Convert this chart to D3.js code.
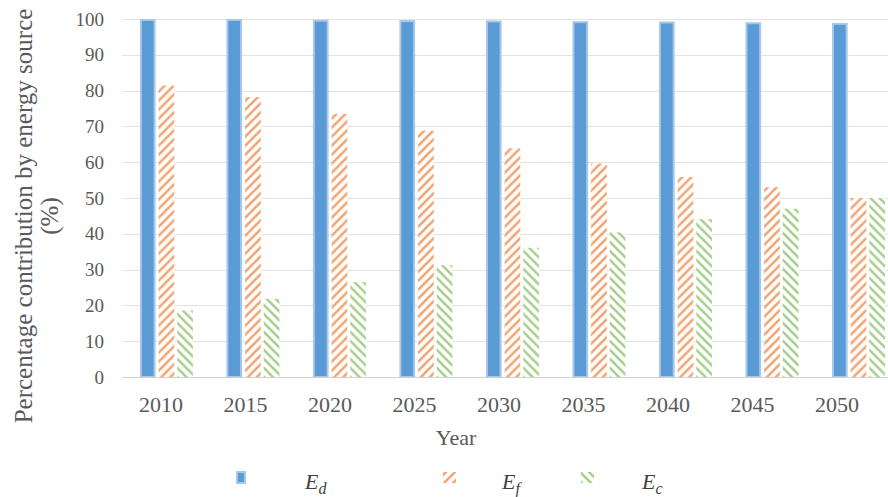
<!DOCTYPE html>
<html>
<head>
<meta charset="utf-8">
<script src="https://cdn.jsdelivr.net/npm/d3@7"></script>
<style>
  html, body { margin: 0; padding: 0; background: #fff; }
  svg { display: block; }
  svg text { font-family: "Liberation Serif", "DejaVu Serif", serif; }
</style>
</head>
<body>
<svg id="chart" width="888" height="497"></svg>
<script>
// Share of each energy source per year (%)
const years = ["2010", "2015", "2020", "2025", "2030", "2035", "2040", "2045", "2050"];
const seriesKeys = ["Ed", "Ef", "Ec"];
const valuesEd = [100, 100, 99.8, 99.7, 99.6, 99.4, 99.3, 99.1, 98.9];
const valuesEf = [81.4, 78.2, 73.5, 68.8, 63.9, 59.6, 55.9, 53.0, 50.0];
const valuesEc = [18.6, 21.8, 26.5, 31.2, 36.1, 40.4, 44.1, 47.0, 50.0];
const yTicks = [0, 10, 20, 30, 40, 50, 60, 70, 80, 90, 100];

const rows = years.map((yr, i) => ({ year: yr, Ed: valuesEd[i], Ef: valuesEf[i], Ec: valuesEc[i] }));

const svg = d3.select("#chart");
const W = 888, H = 497;
const plot = { left: 124.4, right: 903, top: 19, bottom: 377 };

const x = d3.scaleBand().domain(years).range([plot.left, plot.right]).padding(0);
const xs = d3.scaleBand().domain(seriesKeys).range([15.5, 68.5]).paddingInner(0.16).paddingOuter(0);
// year labels sit on their own, slightly tighter, point scale
const xLabel = d3.scalePoint().domain(years).range([160.5, 836.5]);
const y = d3.scaleLinear().domain([0, 100]).range([plot.bottom, plot.top]);

const serif = '"Liberation Serif", "DejaVu Serif", serif';
const textGrey = "#595959";

// hatch patterns
const defs = svg.append("defs");
function hatch(id, color, dir) {
  const s = 9;
  const p = defs.append("pattern")
    .attr("id", id).attr("patternUnits", "userSpaceOnUse")
    .attr("width", s).attr("height", s);
  p.append("rect").attr("width", s).attr("height", s).attr("fill", "#fff");
  const d = dir > 0
    ? `M${-s/2},${s/2} L${s/2},${-s/2} M0,${s} L${s},0 M${s/2},${s*1.5} L${s*1.5},${s/2}`
    : `M${-s/2},${s/2} L${s/2},${s*1.5} M0,0 L${s},${s} M${s/2},${-s/2} L${s*1.5},${s/2}`;
  p.append("path").attr("d", d).attr("stroke", color).attr("stroke-width", 2.6).attr("fill", "none");
}
hatch("hatchF", "#F4A574", 1);
hatch("hatchC", "#A8D08D", -1);

const fills = { Ed: "#5B9BD5", Ef: "url(#hatchF)", Ec: "url(#hatchC)" };
const strokes = { Ed: "#A7C8E9", Ef: "none", Ec: "none" };

// gridlines
svg.append("g").selectAll("line").data(yTicks.filter(t => t > 0)).join("line")
  .attr("x1", 122).attr("x2", W)
  .attr("y1", d => Math.round(y(d)) + 0.5).attr("y2", d => Math.round(y(d)) + 0.5)
  .attr("stroke", "#E3E3E3").attr("stroke-width", 1.2);

// bars
const groups = svg.append("g").selectAll("g").data(rows).join("g")
  .attr("transform", d => `translate(${x(d.year)},0)`);
groups.selectAll("rect").data(d => seriesKeys.map(k => ({ key: k, value: d[k] }))).join("rect")
  .attr("x", d => xs(d.key) + (d.key === "Ed" ? 1 : 0))
  .attr("width", d => xs.bandwidth() - (d.key === "Ed" ? 2 : 0))
  .attr("y", d => y(d.value) + (d.key === "Ed" ? 1 : 0))
  .attr("height", d => y(0) - y(d.value) - (d.key === "Ed" ? 1 : 0))
  .attr("fill", d => fills[d.key])
  .attr("stroke", d => strokes[d.key])
  .attr("stroke-width", 2);

// baseline
svg.append("line").attr("x1", 122).attr("x2", W)
  .attr("y1", Math.round(y(0)) + 0.5).attr("y2", Math.round(y(0)) + 0.5)
  .attr("stroke", "#D0D0D0").attr("stroke-width", 1.2);

// y axis labels
const yAxis = d3.axisLeft(y).tickValues(yTicks).tickSize(0).tickPadding(0);
const yg = svg.append("g").attr("transform", `translate(104,0)`).call(yAxis);
yg.attr("font-family", null);
yg.select(".domain").remove();
yg.selectAll("text").style("font-family", serif).style("font-size", "19px").attr("fill", textGrey);

// x axis labels
const xAxis = d3.axisBottom(xLabel).tickSize(0).tickPadding(0);
const xg = svg.append("g").attr("transform", `translate(0,${plot.bottom})`).call(xAxis);
xg.attr("font-family", null);
xg.select(".domain").remove();
xg.selectAll("text").style("font-family", serif).style("font-size", "22px").attr("fill", textGrey)
  .attr("dy", null).attr("y", 35);

// axis titles
svg.append("text").attr("x", 456).attr("y", 445).attr("text-anchor", "middle")
  .style("font-family", serif).style("font-size", "22px").attr("fill", textGrey).text("Year");

const yTitle = svg.append("text").attr("transform", "translate(0,216) rotate(-90)")
  .attr("text-anchor", "middle").style("font-family", serif).style("font-size", "25px").attr("fill", textGrey);
yTitle.append("tspan").attr("x", 0).attr("y", 32).text("Percentage contribution by energy source");
yTitle.append("tspan").attr("x", 0).attr("y", 58).text("(%)");

// legend
const legendItems = [
  { key: "Ed", sub: "d", sx: 236, tx: 305 },
  { key: "Ef", sub: "f", sx: 443, tx: 502 },
  { key: "Ec", sub: "c", sx: 581, tx: 642 }
];
const lg = svg.append("g");
legendItems.forEach(it => {
  if (it.key === "Ed") {
    lg.append("rect").attr("x", it.sx + 1).attr("y", 472).attr("width", 8).attr("height", 11)
      .attr("fill", fills.Ed).attr("stroke", strokes.Ed).attr("stroke-width", 2);
  } else {
    lg.append("rect").attr("x", it.sx).attr("y", 472).attr("width", 13).attr("height", 11)
      .attr("fill", fills[it.key]);
  }
  const t = lg.append("text").attr("x", it.tx).attr("y", 489)
    .style("font-family", serif).style("font-style", "italic").style("font-size", "22px").attr("fill", "#404040");
  t.append("tspan").text("E");
  t.append("tspan").style("font-size", "16px").attr("dy", 5).text(it.sub);
});
</script>
</body>
</html>
